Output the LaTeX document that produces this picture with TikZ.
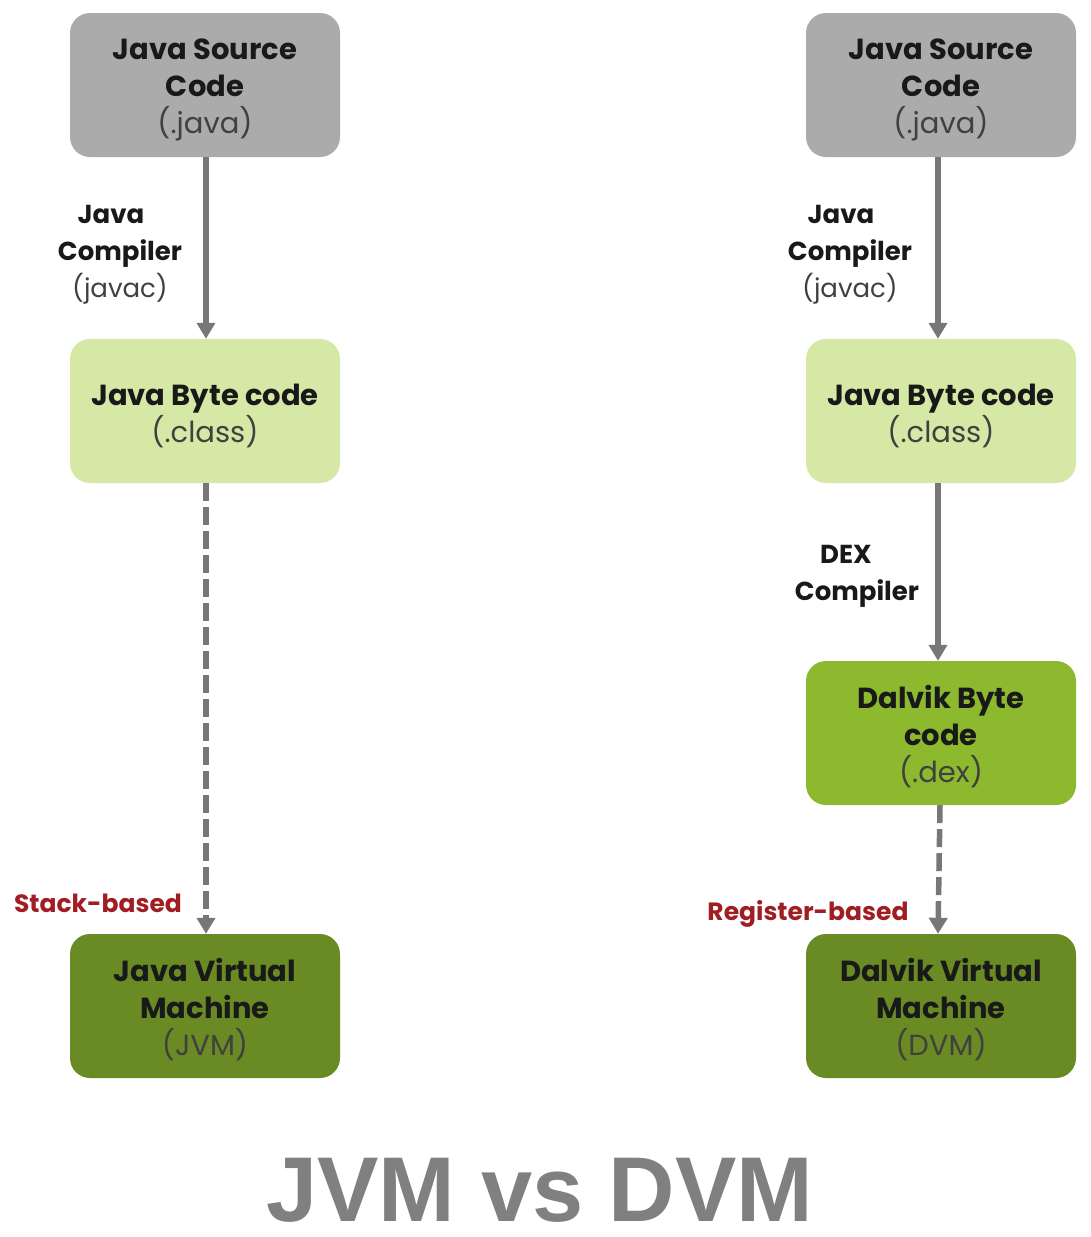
\documentclass[tikz,border=0pt]{standalone}
\usepackage{fontspec}
\setmainfont{Poppins}
\newfontfamily\titlefont{Liberation Sans}
\usetikzlibrary{arrows.meta}
\definecolor{boxgray}{HTML}{ABABAB}
\definecolor{lightgreen}{HTML}{D5E8A6}
\definecolor{midgreen}{HTML}{8CB92E}
\definecolor{darkgreen}{HTML}{6A8A23}
\definecolor{arrowgray}{HTML}{777777}
\definecolor{subgray}{HTML}{404040}
\definecolor{labelred}{HTML}{A01E23}
\definecolor{titlegray}{HTML}{808080}
\tikzset{
  stagebox/.style={rounded corners=20pt, minimum width=270pt, minimum height=144pt,
    align=center, inner sep=0pt, font=\fontsize{29}{37}\selectfont, text=black!90},
  flow/.style={draw=arrowgray, line width=5.5pt, -{Triangle[width=18pt,length=16pt]}},
  dashflow/.style={flow, dash pattern=on 18pt off 6pt},
  edgelabel/.style={align=center, inner sep=0pt, font=\fontsize{26}{37}\selectfont, text=black!90},
  kindlabel/.style={inner sep=0pt, font=\bfseries\fontsize{25}{32}\selectfont, text=labelred},
}
\newcommand{\subline}[1]{{\mdseries\color{subgray}#1}}
\newcommand{\topfix}{\rule{0pt}{31pt}}
\begin{document}
\begin{tikzpicture}[x=1pt,y=-1pt]
\useasboundingbox (0,0) rectangle (1090,1237);
% left column
\node[stagebox, fill=boxgray] (l1) at (205,85) {\topfix\bfseries Java Source\\\bfseries Code\\\subline{(.java)}};
\node[stagebox, fill=lightgreen] (l2) at (205,411) {\topfix\bfseries Java Byte code\\\subline{(.class)}};
\node[stagebox, fill=darkgreen] (l3) at (205,1006) {\topfix\bfseries Java Virtual\\\bfseries Machine\\\subline{(JVM)}};
% right column
\node[stagebox, fill=boxgray] (r1) at (941,85) {\topfix\bfseries Java Source\\\bfseries Code\\\subline{(.java)}};
\node[stagebox, fill=lightgreen] (r2) at (941,411) {\topfix\bfseries Java Byte code\\\subline{(.class)}};
\node[stagebox, fill=midgreen] (r3) at (941,733) {\topfix\bfseries Dalvik Byte\\\bfseries code\\\subline{(.dex)}};
\node[stagebox, fill=darkgreen] (r4) at (941,1006) {\topfix\bfseries Dalvik Virtual\\\bfseries Machine\\\subline{(DVM)}};
% connectors
\draw[flow] ([xshift=1pt]l1.south) -- ([xshift=1pt]l2.north);
\draw[dashflow] ([xshift=1pt]l2.south) -- ([xshift=1pt]l3.north);
\draw[flow] ([xshift=-3pt]r1.south) -- ([xshift=-3pt]r2.north);
\draw[flow] ([xshift=-3pt]r2.south) -- ([xshift=-3pt]r3.north);
\draw[dashflow] ([xshift=-1pt]r3.south) -- ([xshift=-3pt]r4.north);
% connector labels
\node[edgelabel] (lc) at (120,255) {\bfseries\hspace*{-18pt}Java\\\bfseries Compiler\\\subline{(javac)}};
\node[edgelabel] (rc) at (850,255) {\bfseries\hspace*{-18pt}Java\\\bfseries Compiler\\\subline{(javac)}};
\node[edgelabel] (dc) at (857,576) {\bfseries\hspace*{-22pt}DEX\\\bfseries Compiler};
\node[kindlabel] (sb) at (98,903) {Stack-based};
\node[kindlabel] (rb) at (808,914) {Register-based};
% title
\node[inner sep=0pt, text=titlegray, font=\titlefont\bfseries\fontsize{92}{94}\selectfont] (title) at (540,1190) {JVM vs DVM};
\end{tikzpicture}
\end{document}
